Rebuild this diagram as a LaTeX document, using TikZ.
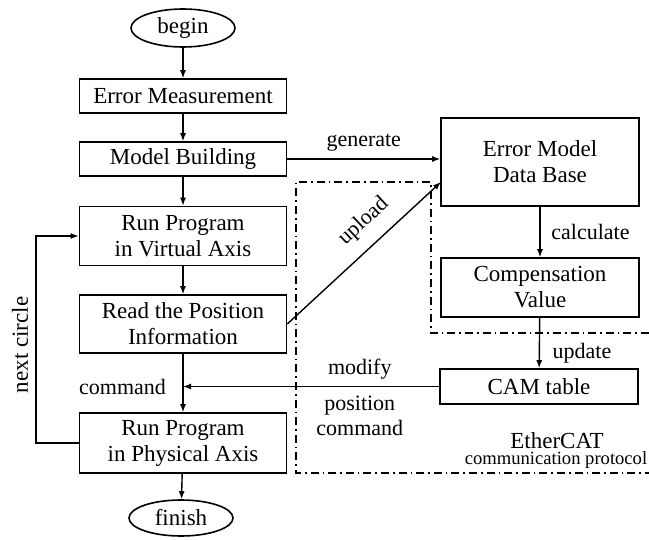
\documentclass[tikz,border=0pt]{standalone}
\usepackage{fontspec}
\setmainfont{Liberation Serif}
\usetikzlibrary{arrows.meta,shapes.geometric}

\tikzset{
  block/.style={draw, line width=0.8pt, minimum width=103.5pt, align=center, inner sep=2pt},
  rblock/.style={draw, line width=0.8pt, minimum width=99pt, align=center, inner sep=2pt},
  term/.style={draw, ellipse, line width=0.8pt, minimum width=52pt, minimum height=19pt, inner sep=1pt},
  flow/.style={-{Latex[length=4pt,width=3pt]}, line width=0.7pt},
  lbl/.style={font=\fontsize{11}{12.5}\selectfont},
  dashdot/.style={line width=0.7pt, dash pattern=on 4pt off 2pt on 0.8pt off 2pt}
}

\begin{document}
\begin{tikzpicture}[x=0.5pt, y=-0.5pt, every node/.append style={font=\fontsize{11.5}{13}\selectfont}]
  \useasboundingbox (0,0) rectangle (649,540);

  % left column
  \node[term] (begin) at (183,28) {begin};
  \node[block, minimum height=17pt] (err) at (183,96) {Error Measurement};
  \node[block, minimum height=17pt] (model) at (183,159) {Model Building};
  \node[block, minimum height=29.5pt] (virt) at (183,236) {Run Program\\in Virtual Axis};
  \node[block, minimum height=29pt] (read) at (183,324) {Read the Position\\Information};
  \node[block, minimum height=30pt] (phys) at (183,443) {Run Program\\in Physical Axis};
  \node[term, minimum height=18pt] (finish) at (181,518) {finish};

  % right column
  \node[rblock, minimum height=44pt] (emdb) at (540,162) {Error Model\\Data Base};
  \node[rblock, minimum height=29.5pt] (comp) at (540,287.5) {Compensation\\Value};
  \node[rblock, minimum height=17.5pt] (cam) at (539,386.5) {CAM table};

  % EtherCAT region
  \draw[dashdot] (649,333) -- (431,333) -- (431,182) -- (296,182) -- (296,473) -- (649,473);
  \node (ecat) at (557,441) {EtherCAT};
  \node[font=\fontsize{9.3}{10}\selectfont, inner sep=1pt] (proto) at (556,460) {communication protocol};

  % main flow
  \draw[flow] (begin) -- (err);
  \draw[flow] (err) -- (model);
  \draw[flow] (model) -- (virt);
  \draw[flow] (virt) -- (read);
  \draw[flow] (read) -- (phys);
  \draw[flow] (phys) -- (finish);

  % loop back
  \coordinate (loop) at (36,443);
  \draw[flow] (phys.west) -- (loop) |- (virt.west);
  \node[rotate=90] (next) at (20,345) {next circle};

  % right side flow
  \draw[flow] (model.east) -- node[lbl, above] {generate} (model.east -| emdb.west);
  \draw[flow] (emdb) -- node[lbl, right=2pt] {calculate} (comp);
  \draw[flow] (comp) -- node[lbl, pos=0.7, right=3pt] {update} (cam);

  \coordinate (upl) at (441,182);
  \draw[flow] (read.east) -- node[lbl, pos=0.6, above=3pt, sloped] {upload} (upl);

  \coordinate (cmd) at (cam.west -| read.south);
  \draw[flow] (cam.west) -- node[lbl, pos=0.31, above] {modify}
    node[lbl, pos=0.31, below=1pt, align=center] {position\\command} (cmd);
  \node[lbl, left=5pt] (cmdlbl) at (cmd) {command};
\end{tikzpicture}
\end{document}
